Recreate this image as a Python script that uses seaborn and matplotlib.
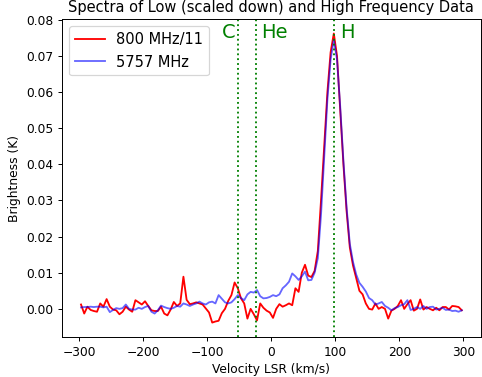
import matplotlib
matplotlib.use("Agg")
import matplotlib.pyplot as plt
import seaborn as sns
import numpy as np
import pandas as pd

velocity = [
    -297.5, -292.5, -287.5, -282.5, -277.5, -272.5, -267.5, -262.5, -257.5, -252.5,
    -247.5, -242.5, -237.5, -232.5, -227.5, -222.5, -217.5, -212.5, -207.5, -202.5,
    -197.5, -192.5, -187.5, -182.5, -177.5, -172.5, -167.5, -162.5, -157.5, -152.5,
    -147.5, -142.5, -137.5, -132.5, -127.5, -122.5, -117.5, -112.5, -107.5, -102.5,
    -97.5, -92.5, -87.5, -82.5, -77.5, -72.5, -67.5, -62.5, -57.5, -52.5,
    -47.5, -42.5, -37.5, -32.5, -27.5, -22.5, -17.5, -12.5, -7.5, -2.5,
    2.5, 7.5, 12.5, 17.5, 22.5, 27.5, 32.5, 37.5, 42.5, 47.5,
    52.5, 57.5, 62.5, 67.5, 72.5, 77.5, 82.5, 87.5, 92.5, 97.5,
    102.5, 107.5, 112.5, 117.5, 122.5, 127.5, 132.5, 137.5, 142.5, 147.5,
    152.5, 157.5, 162.5, 167.5, 172.5, 177.5, 182.5, 187.5, 192.5, 197.5,
    202.5, 207.5, 212.5, 217.5, 222.5, 227.5, 232.5, 237.5, 242.5, 247.5,
    252.5, 257.5, 262.5, 267.5, 272.5, 277.5, 282.5, 287.5, 292.5, 297.5,
]

low_freq = [
    0.0012, -0.0013, 0.0006, -0.0003, -0.0006, -0.0008, 0.0015, 0.0006, 0.0027, 0.0006,
    -0.0002, -0.0004, -0.0015, -0.0008, 0.0006, -0.0002, -0.0008, 0.0024, 0.0018, 0.0012,
    0.0021, 0.0008, -0.0004, -0.0006, -0.0006, 0.0006, -0.0013, -0.0018, -0.0002, 0.0019,
    0.0008, 0.0015, 0.0089, 0.0025, 0.0013, 0.0015, 0.0018, 0.0015, 0.0012, 0.0001,
    -0.0010, -0.0038, -0.0035, -0.0033, -0.0012, 0.0000, 0.0022, 0.0038, 0.0073, 0.0057,
    0.0029, 0.0015, -0.0027, 0.0000, -0.0015, -0.0032, 0.0015, 0.0003, -0.0005, -0.0010,
    -0.0025, 0.0000, 0.0013, 0.0006, 0.0010, 0.0015, 0.0010, 0.0057, 0.0047, 0.0100,
    0.0122, 0.0092, 0.0088, 0.0105, 0.0160, 0.0300, 0.0450, 0.0600, 0.0710, 0.0762,
    0.0700, 0.0550, 0.0400, 0.0270, 0.0170, 0.0120, 0.0085, 0.0050, 0.0040, 0.0015,
    0.0000, -0.0002, 0.0015, 0.0000, 0.0005, 0.0000, -0.0027, -0.0005, 0.0000, 0.0008,
    0.0024, 0.0000, 0.0013, 0.0024, -0.0005, 0.0000, 0.0026, -0.0002, 0.0005, 0.0000,
    -0.0004, 0.0003, -0.0004, 0.0005, 0.0005, -0.0002, 0.0008, 0.0007, 0.0005, -0.0004,
]

high_freq = [
    0.0004, 0.0005, 0.0005, 0.0006, 0.0005, 0.0006, 0.0006, 0.0004, 0.0006, -0.0009,
    -0.0003, 0.0002, 0.0000, 0.0002, 0.0012, 0.0000, -0.0002, -0.0002, 0.0003, 0.0000,
    0.0005, 0.0008, -0.0008, -0.0013, -0.0004, 0.0009, 0.0005, 0.0002, 0.0000, 0.0003,
    0.0008, 0.0006, 0.0015, 0.0012, 0.0008, 0.0012, 0.0015, 0.0020, 0.0015, 0.0012,
    0.0018, 0.0020, 0.0015, 0.0038, 0.0028, 0.0018, 0.0015, 0.0018, 0.0027, 0.0038,
    0.0030, 0.0024, 0.0040, 0.0047, 0.0045, 0.0052, 0.0035, 0.0029, 0.0030, 0.0033,
    0.0038, 0.0035, 0.0040, 0.0057, 0.0065, 0.0075, 0.0098, 0.0090, 0.0080, 0.0090,
    0.0103, 0.0079, 0.0080, 0.0100, 0.0140, 0.0260, 0.0420, 0.0580, 0.0690, 0.0745,
    0.0690, 0.0560, 0.0410, 0.0280, 0.0180, 0.0130, 0.0095, 0.0072, 0.0061, 0.0048,
    0.0030, 0.0024, 0.0012, 0.0015, 0.0019, 0.0008, 0.0003, -0.0004, 0.0002, 0.0005,
    0.0010, 0.0013, 0.0024, -0.0003, 0.0000, 0.0005, 0.0000, 0.0008, 0.0000, 0.0005,
    0.0006, -0.0002, 0.0000, 0.0003, -0.0003, -0.0002, -0.0006, -0.0005, -0.0008, -0.0004,
]

line_names = ["C", "He", "H"]
line_positions = [-51.6, -24.2, 98.0]

df = pd.DataFrame({"v": velocity, "low": low_freq, "high": high_freq})

DPI = 88
fig = plt.figure(figsize=(482 / DPI, 377 / DPI), dpi=DPI)
ax = fig.add_axes([0.1286, 0.106, 0.869, 0.8435])

sns.lineplot(data=df, x="v", y="low", ax=ax, color="red", linewidth=1.5,
             label="800 MHz/11")
sns.lineplot(data=df, x="v", y="high", ax=ax, color="blue", alpha=0.6,
             linewidth=1.5, label="5757 MHz")

for name, pos in zip(line_names, line_positions):
    ax.axvline(pos, color="green", linestyle=":", linewidth=1.5)

ax.text(line_positions[0] - 5, 0.0765, line_names[0], color="green",
        fontsize=16, ha="right", va="center")
ax.text(line_positions[1] + 8, 0.0765, line_names[1], color="green",
        fontsize=16, ha="left", va="center")
ax.text(line_positions[2] + 9, 0.0765, line_names[2], color="green",
        fontsize=16, ha="left", va="center")

ax.set_xticks([-300, -200, -100, 0, 100, 200, 300])
ax.set_title("Spectra of Low (scaled down) and High Frequency Data", fontsize=12)
ax.set_xlabel("Velocity LSR (km/s)", fontsize=10)
ax.set_ylabel("Brightness (K)", fontsize=10)
ax.tick_params(labelsize=10)
ax.legend(loc="upper left", fontsize=12)

fig.savefig("out.png", dpi=DPI)
